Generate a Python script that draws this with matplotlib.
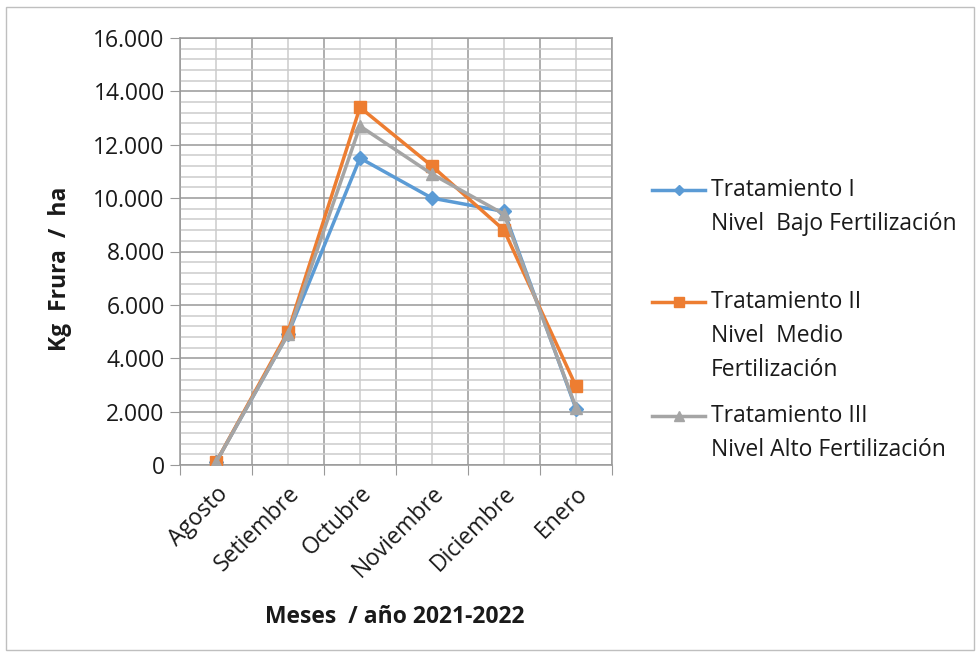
import matplotlib.pyplot as plt
from matplotlib.lines import Line2D
from matplotlib.patches import Rectangle
from matplotlib.ticker import FuncFormatter, MultipleLocator, FixedLocator

# Monthly yield (kg fruit / ha) per fertilization treatment
meses = ["Agosto", "Setiembre", "Octubre", "Noviembre", "Diciembre", "Enero"]
trat_1 = [100, 4900, 11500, 10000, 9500, 2100]
trat_2 = [100, 5000, 13400, 11200, 8800, 2950]
trat_3 = [100, 4900, 12700, 10900, 9400, 2150]

nombres = [
    ["Tratamiento I", "Nivel  Bajo Fertilización"],
    ["Tratamiento II", "Nivel  Medio", "Fertilización"],
    ["Tratamiento III", "Nivel Alto Fertilización"],
]
colores = ["#5B9BD5", "#ED7D31", "#A5A5A5"]
marcadores = ["D", "s", "^"]
tamanos = [7, 8.5, 9]

plt.rcParams["font.family"] = ["Open Sans", "DejaVu Sans"]
fs = 16.5
txt = "#1a1a1a"

fig = plt.figure(figsize=(9.8, 6.58), dpi=100)
ax = fig.add_axes([180 / 980, 1 - 465 / 658, 432 / 980, 427 / 658])

x = list(range(len(meses)))
for serie, col, mk, ms in zip([trat_1, trat_2, trat_3], colores, marcadores, tamanos):
    ax.plot(x, serie, color=col, lw=2.5, marker=mk, ms=ms, mec=col, mfc=col, zorder=3)

ax.set_xlim(-0.5, len(meses) - 0.5)
ax.set_ylim(0, 16000)

# y axis: labelled every 2.000, light grid every 400
ax.yaxis.set_major_locator(MultipleLocator(2000))
ax.yaxis.set_minor_locator(MultipleLocator(400))
ax.yaxis.set_major_formatter(FuncFormatter(lambda v, p: f"{int(v):,}".replace(",", ".")))

# x axis: ticks at category borders, labels at the centres
ax.xaxis.set_major_locator(FixedLocator([i - 0.5 for i in range(len(meses) + 1)]))
ax.xaxis.set_minor_locator(FixedLocator(x))
ax.set_xticklabels([])
ax.set_xticks(x, minor=True)
ax.set_xticklabels(meses, minor=True, rotation=45, ha="right", rotation_mode="anchor",
                   fontsize=fs, color=txt)

ax.tick_params(axis="x", which="major", length=7, color="#999999", direction="out")
ax.tick_params(axis="x", which="minor", length=0, pad=12)
ax.tick_params(axis="y", which="major", length=7, color="#999999", labelsize=fs,
               labelcolor=txt, pad=4)
ax.tick_params(axis="y", which="minor", length=0)

ax.grid(which="major", color="#999999", lw=1.1)
ax.grid(which="minor", color="#cccccc", lw=1.1)
ax.set_axisbelow(True)

for lado in ["left", "bottom", "right", "top"]:
    ax.spines[lado].set_color("#999999")
    ax.spines[lado].set_linewidth(1.1)

ax.set_ylabel("Kg  Frura  /  ha", fontsize=fs, fontweight="bold", color=txt)
ax.yaxis.set_label_coords(-0.25, 0.46)
fig.text(395 / 980, 1 - 617 / 658, "Meses  / año 2021-2022", fontsize=fs, fontweight="bold",
         color=txt, ha="center", va="center")

# legend drawn by hand so the entry spacing stays uneven
filas = [190, 302, 416]
for nombre, y0, col, mk, ms in zip(nombres, filas, colores, marcadores, tamanos):
    fy = 1 - y0 / 658
    fig.add_artist(Line2D([652 / 980, 705 / 980], [fy, fy], color=col, lw=2.5,
                          transform=fig.transFigure))
    fig.add_artist(Line2D([678.5 / 980], [fy], color=col, marker=mk, ms=ms * 0.8,
                          mec=col, mfc=col, transform=fig.transFigure))
    for k, linea in enumerate(nombre):
        fig.text(711 / 980, 1 - (y0 + 34 * k) / 658, linea, fontsize=fs,
                 color=txt, ha="left", va="center")

# outer chart frame
fig.add_artist(Rectangle((6 / 980, 8 / 658), 968 / 980, 643 / 658, fill=False,
                         ec="#bfbfbf", lw=1, transform=fig.transFigure))

fig.savefig("out.png", dpi=100)
